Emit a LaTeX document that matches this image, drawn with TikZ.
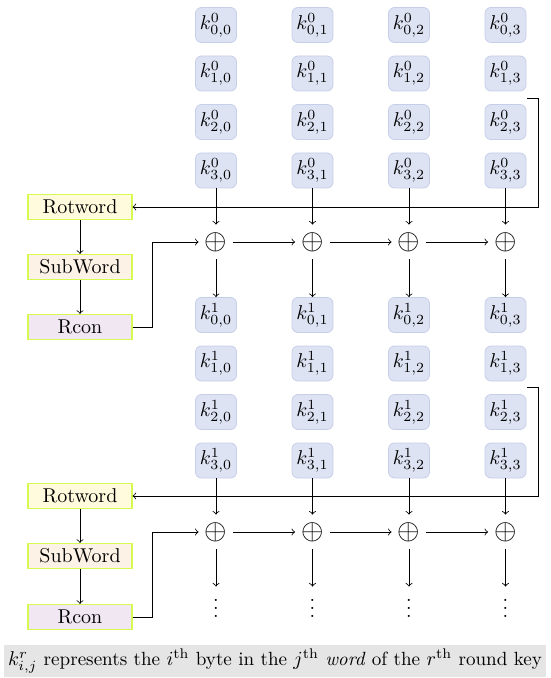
\documentclass[tikz,border=0pt]{standalone}
\usepackage{amsmath}
\definecolor{kfill}{RGB}{222,227,243}
\definecolor{kdraw}{RGB}{198,207,233}
\definecolor{boxdraw}{RGB}{214,250,80}
\definecolor{rotfill}{RGB}{255,251,220}
\definecolor{subfill}{RGB}{253,242,230}
\definecolor{rconfill}{RGB}{241,231,243}
\definecolor{capfill}{RGB}{229,229,229}
\begin{document}
\begin{tikzpicture}[x=0.5pt,y=-0.5pt,
  kbox/.style={draw=kdraw, fill=kfill, rounded corners=3pt, minimum width=20.5pt, minimum height=17.5pt, inner sep=0pt},
  opbox/.style={draw=boxdraw, line width=0.6pt, minimum width=52pt, minimum height=12.5pt, inner sep=0pt},
  xorbox/.style={minimum size=17pt, inner sep=0pt, font=\Large},
  arr/.style={->, line width=0.4pt},
  dotbox/.style={inner sep=0pt}]
\useasboundingbox (0,0) rectangle (550,678);
\foreach \j/\x in {0/216,1/312.5,2/409,3/505.5}{
  \foreach \i/\y in {0/25,1/73.5,2/122,3/170.5}{
    \node[kbox] (a\i\j) at (\x,\y) {$k^0_{\i,\j}$};
  }
  \node[xorbox] (xa\j) at (\x,242) {$\oplus$};
  \foreach \i/\y in {0/315,1/363.5,2/412,3/460.5}{
    \node[kbox] (b\i\j) at (\x,\y) {$k^1_{\i,\j}$};
  }
  \node[xorbox] (xb\j) at (\x,532) {$\oplus$};
  \node[dotbox] (d\j) at (\x,602) {$\vdots$};
}
\node[opbox, fill=rotfill] (rw1) at (80,207) {Rotword};
\node[opbox, fill=subfill] (sw1) at (80,267) {SubWord};
\node[opbox, fill=rconfill] (rc1) at (80,327) {Rcon};
\node[opbox, fill=rotfill] (rw2) at (80,496) {Rotword};
\node[opbox, fill=subfill] (sw2) at (80,556) {SubWord};
\node[opbox, fill=rconfill] (rc2) at (80,617) {Rcon};
\node[fill=capfill, minimum width=271pt, minimum height=16pt, inner sep=1pt] (cap) at (275,661)
  {\fontsize{9.55}{11}\selectfont $k^r_{i,j}$ represents the $i^{\mathrm{th}}$ byte in the $j^{\mathrm{th}}$ \emph{word} of the $r^{\mathrm{th}}$ round key};
\foreach \j in {0,1,2,3}{
  \draw[arr] (a3\j) -- (xa\j);
  \draw[arr] (xa\j) -- (b0\j);
  \draw[arr] (b3\j) -- (xb\j);
  \draw[arr] (xb\j) -- (d\j.north);
}
\foreach \j/\k in {0/1,1/2,2/3}{
  \draw[arr] (xa\j) -- (xa\k);
  \draw[arr] (xb\j) -- (xb\k);
}
\draw[arr] (rw1) -- (sw1);
\draw[arr] (sw1) -- (rc1);
\draw[arr] (rw2) -- (sw2);
\draw[arr] (sw2) -- (rc2);
\draw[arr] (rc1.east) -- ++(20,0) |- (xa0.west);
\draw[arr] (rc2.east) -- ++(20,0) |- (xb0.west);
\coordinate (t1) at (527,98);
\coordinate (t2) at (527,387);
\draw[arr] (t1) -- ++(11,0) |- (rw1.east);
\draw[arr] (t2) -- ++(11,0) |- (rw2.east);
\end{tikzpicture}
\end{document}
